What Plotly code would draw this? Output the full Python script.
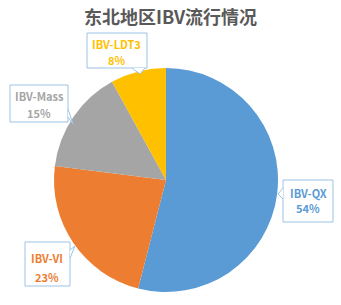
import plotly.graph_objects as go

labels = ["IBV-QX", "IBV-VI", "IBV-Mass", "IBV-LDT3"]
values = [54, 23, 15, 8]
colors = ["#5B9BD5", "#ED7D31", "#A5A5A5", "#FFC000"]
title_text = "东北地区IBV流行情况"

W, H = 341, 305
BORDER = "#9DC3E6"

def px(x, y):
    return x / W, 1 - y / H

fig = go.Figure()
fig.add_trace(go.Pie(
    labels=labels, values=values, sort=False, direction="clockwise", rotation=0,
    marker=dict(colors=colors, line=dict(width=0)),
    textinfo="none", hoverinfo="label+percent", showlegend=False,
    domain=dict(x=[54 / W, 278 / W], y=[1 - 292 / H, 1 - 68 / H]),
))

# callout layout in pixels: box (x0, y0, x1, y1), line y's, tail (A, tip, B)
callouts = [
    dict(box=(283, 180, 333, 222), lines=(193, 208), tail=((283, 188), (278, 194), (283, 199))),
    dict(box=(25, 242, 70, 286), lines=(258, 277), tail=((70, 250), (75, 246), (70, 258))),
    dict(box=(10, 85, 68, 122), lines=(96, 113), tail=((68, 109), (73, 124), (68, 117))),
    dict(box=(87, 33, 147, 68), lines=(44, 60), tail=((132, 68), (140, 74), (145, 68))),
]
total = sum(values)
for lab, val, col, c in zip(labels, values, colors, callouts):
    bx0, by0, bx1, by1 = c["box"]
    x0, y0 = px(bx0, by1)
    x1, y1 = px(bx1, by0)
    fig.add_shape(type="rect", xref="paper", yref="paper", x0=x0, y0=y0, x1=x1, y1=y1,
                  line=dict(color=BORDER, width=1), fillcolor="white", layer="above")
    (ax_, ay_), (tx, ty), (bxp, byp) = c["tail"]
    pa = px(ax_, ay_); pt = px(tx, ty); pb = px(bxp, byp)
    fig.add_shape(type="path", xref="paper", yref="paper",
                  path=f"M {pa[0]} {pa[1]} L {pt[0]} {pt[1]} L {pb[0]} {pb[1]} Z",
                  line=dict(width=0), fillcolor="white", layer="above")
    fig.add_shape(type="path", xref="paper", yref="paper",
                  path=f"M {pa[0]} {pa[1]} L {pt[0]} {pt[1]} L {pb[0]} {pb[1]}",
                  line=dict(color=BORDER, width=1), layer="above")
    cx = (bx0 + bx1) / 2
    for txt, ly in zip([lab, f"{round(val / total * 100)}%"], c["lines"]):
        xx, yy = px(cx, ly)
        fig.add_annotation(x=xx, y=yy, xref="paper", yref="paper", showarrow=False,
                           xanchor="center", yanchor="middle", text=f"<b>{txt}</b>",
                           font=dict(family="Noto Sans CJK SC, Open Sans", size=11, color=col))

fig.update_layout(
    width=W, height=H,
    margin=dict(l=0, r=0, t=0, b=0),
    paper_bgcolor="white", plot_bgcolor="white",
    title=dict(text=f"<b>{title_text}</b>", x=0.5, xanchor="center",
               y=1 - 18 / H, yanchor="middle",
               font=dict(family="Noto Sans CJK SC", size=18, color="#595959")),
)

fig.write_html("out.html")
